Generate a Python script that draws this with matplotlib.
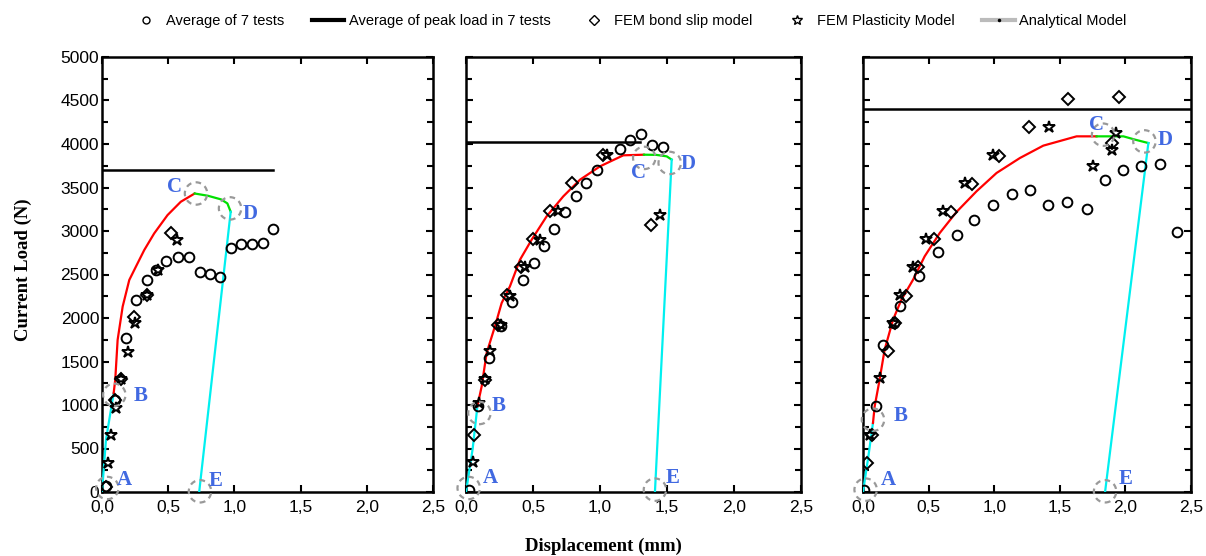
import matplotlib
matplotlib.use("Agg")
import matplotlib.pyplot as plt
from matplotlib.lines import Line2D
from matplotlib.ticker import MultipleLocator, FuncFormatter

plt.rcParams['font.family'] = ['Liberation Sans', 'DejaVu Sans']

# ---------------- data ----------------
# Panel 1
p1_test_x = [0.03, 0.10, 0.18, 0.256, 0.337, 0.41, 0.487, 0.575, 0.658, 0.739, 0.814, 0.889, 0.972, 1.053, 1.136, 1.216, 1.294]
p1_test_y = [65, 1052, 1767, 2207, 2437, 2552, 2659, 2697, 2697, 2525, 2502, 2475, 2800, 2846, 2846, 2865, 3022]
p1_bond_x = [0.03, 0.10, 0.143, 0.244, 0.337, 0.52]
p1_bond_y = [60, 1060, 1297, 2016, 2265, 2980]
p1_plast_x = [0.048, 0.068, 0.106, 0.143, 0.193, 0.249, 0.337, 0.42, 0.57]
p1_plast_y = [333, 658, 964, 1297, 1614, 1947, 2265, 2552, 2896]
p1_peak = 3700
p1_peak_end = 1.29
p1_ab_x = [0.0, 0.03, 0.088]
p1_ab_y = [0, 600, 1136]
p1_bc_x = [0.088, 0.10, 0.118, 0.156, 0.206, 0.256, 0.319, 0.394, 0.495, 0.595, 0.70]
p1_bc_y = [1136, 1289, 1748, 2131, 2437, 2590, 2781, 2972, 3183, 3336, 3431]
p1_cd_x = [0.70, 0.80, 0.90, 0.947, 0.972]
p1_cd_y = [3431, 3405, 3363, 3317, 3221]
p1_de_x = [0.972, 0.734]
p1_de_y = [3221, 0]
p1_pts_x = [0.04, 0.093, 0.71, 0.967, 0.74]
p1_pts_y = [46, 1117, 3431, 3260, 8]
p1_lab_x = [0.17, 0.29, 0.55, 1.12, 0.86]
p1_lab_y = [140, 1098, 3500, 3200, 122]

# Panel 2
p2_test_x = [0.02, 0.092, 0.174, 0.261, 0.341, 0.428, 0.507, 0.582, 0.657, 0.741, 0.821, 0.893, 0.975, 1.149, 1.224, 1.308, 1.388, 1.468]
p2_test_y = [20, 985, 1540, 1904, 2180, 2441, 2632, 2824, 3027, 3218, 3398, 3552, 3705, 3943, 4050, 4115, 3992, 3962]
p2_bond_x = [0.062, 0.142, 0.241, 0.303, 0.41, 0.502, 0.627, 0.789, 1.025, 1.38]
p2_bond_y = [659, 1291, 1923, 2268, 2582, 2908, 3226, 3552, 3877, 3073]
p2_plast_x = [0.05, 0.10, 0.142, 0.179, 0.261, 0.328, 0.44, 0.552, 0.69, 1.05, 1.448]
p2_plast_y = [341, 1023, 1299, 1617, 1923, 2249, 2582, 2900, 3226, 3877, 3188]
p2_peak = 4020
p2_peak_end = 1.30
p2_ab_x = [0.0, 0.05, 0.085]
p2_ab_y = [0, 500, 985]
p2_bc_x = [0.085, 0.117, 0.154, 0.216, 0.266, 0.328, 0.403, 0.49, 0.602, 0.726, 0.851, 1.0, 1.174, 1.328]
p2_bc_y = [985, 1215, 1598, 1904, 2172, 2364, 2670, 2900, 3169, 3398, 3590, 3743, 3870, 3877]
p2_cd_x = [1.328, 1.42, 1.498, 1.535]
p2_cd_y = [3877, 3875, 3858, 3820]
p2_de_x = [1.535, 1.41]
p2_de_y = [3820, 0]
p2_pts_x = [0.02, 0.10, 1.33, 1.52, 1.41]
p2_pts_y = [46, 908, 3840, 3782, 27]
p2_lab_x = [0.18, 0.24, 1.29, 1.66, 1.54]
p2_lab_y = [160, 985, 3667, 3774, 160]

# Panel 3
p3_test_x = [0.01, 0.097, 0.153, 0.234, 0.28, 0.427, 0.573, 0.718, 0.845, 0.992, 1.137, 1.272, 1.412, 1.557, 1.705, 1.845, 1.98, 2.12, 2.265, 2.397]
p3_test_y = [27, 985, 1693, 1942, 2142, 2479, 2755, 2958, 3130, 3299, 3429, 3467, 3299, 3329, 3253, 3590, 3705, 3751, 3774, 2985]
p3_bond_x = [0.03, 0.071, 0.19, 0.242, 0.33, 0.42, 0.54, 0.674, 0.832, 1.038, 1.267, 1.565, 1.954, 1.90]
p3_bond_y = [333, 659, 1617, 1942, 2249, 2582, 2908, 3218, 3544, 3866, 4192, 4517, 4540, 4011]
p3_plast_x = [0.05, 0.127, 0.229, 0.285, 0.38, 0.483, 0.61, 0.776, 0.992, 1.417, 1.756, 1.896, 1.93]
p3_plast_y = [659, 1310, 1942, 2260, 2582, 2912, 3230, 3552, 3877, 4195, 3743, 3935, 4126]
p3_peak = 4400
p3_peak_end = 2.5
p3_ab_x = [0.0, 0.04, 0.076]
p3_ab_y = [0, 400, 793]
p3_bc_x = [0.076, 0.089, 0.122, 0.165, 0.229, 0.293, 0.382, 0.47, 0.585, 0.712, 0.865, 1.018, 1.196, 1.374, 1.628, 1.78]
p3_bc_y = [793, 985, 1253, 1636, 1981, 2211, 2441, 2709, 2977, 3218, 3456, 3667, 3839, 3981, 4088, 4088]
p3_cd_x = [1.78, 1.985, 2.074, 2.175]
p3_cd_y = [4088, 4088, 4050, 4011]
p3_de_x = [2.175, 1.845]
p3_de_y = [4011, 0]
p3_pts_x = [0.02, 0.076, 1.83, 2.145, 1.845]
p3_pts_y = [27, 831, 4107, 4030, 8]
p3_lab_x = [0.19, 0.285, 1.78, 2.30, 2.0]
p3_lab_y = [140, 870, 4222, 4050, 150]

point_names = ['A', 'B', 'C', 'D', 'E']
x_ticks = [0.0, 0.5, 1.0, 1.5, 2.0, 2.5]
y_ticks = [0, 500, 1000, 1500, 2000, 2500, 3000, 3500, 4000, 4500, 5000]

panels = [
    dict(tx=p1_test_x, ty=p1_test_y, bx=p1_bond_x, by=p1_bond_y, sx=p1_plast_x, sy=p1_plast_y,
         peak=p1_peak, pend=p1_peak_end, ab=(p1_ab_x, p1_ab_y), bc=(p1_bc_x, p1_bc_y),
         cd=(p1_cd_x, p1_cd_y), de=(p1_de_x, p1_de_y), px=p1_pts_x, py=p1_pts_y, lx=p1_lab_x, ly=p1_lab_y),
    dict(tx=p2_test_x, ty=p2_test_y, bx=p2_bond_x, by=p2_bond_y, sx=p2_plast_x, sy=p2_plast_y,
         peak=p2_peak, pend=p2_peak_end, ab=(p2_ab_x, p2_ab_y), bc=(p2_bc_x, p2_bc_y),
         cd=(p2_cd_x, p2_cd_y), de=(p2_de_x, p2_de_y), px=p2_pts_x, py=p2_pts_y, lx=p2_lab_x, ly=p2_lab_y),
    dict(tx=p3_test_x, ty=p3_test_y, bx=p3_bond_x, by=p3_bond_y, sx=p3_plast_x, sy=p3_plast_y,
         peak=p3_peak, pend=p3_peak_end, ab=(p3_ab_x, p3_ab_y), bc=(p3_bc_x, p3_bc_y),
         cd=(p3_cd_x, p3_cd_y), de=(p3_de_x, p3_de_y), px=p3_pts_x, py=p3_pts_y, lx=p3_lab_x, ly=p3_lab_y),
]

# ---------------- figure ----------------
W, H = 1206, 556
fig = plt.figure(figsize=(W / 100, H / 100), dpi=100)
rects = [(102, 331), (466, 335), (863, 328)]
top_px, bot_px = 57, 492

label_color = '#4169E1'
cyan = '#00F0F0'
red = '#FF0000'
green = '#00E000'
mk = dict(markersize=7, markerfacecolor='none', markeredgecolor='black', markeredgewidth=1.4, linestyle='none')

for i, (p, (l, w)) in enumerate(zip(panels, rects)):
    ax = fig.add_axes([l / W, (H - bot_px) / H, w / W, (bot_px - top_px) / H])
    ax.set_xlim(0, 2.5)
    ax.set_ylim(0, 5000)

    ax.plot([0, p['pend']], [p['peak'], p['peak']], color='black', lw=1.8, zorder=2)

    ax.plot(*p['ab'], color=cyan, lw=1.6, zorder=3)
    ax.plot(*p['bc'], color=red, lw=1.6, zorder=3)
    ax.plot(*p['cd'], color=green, lw=1.6, zorder=3)
    ax.plot(*p['de'], color=cyan, lw=1.6, zorder=3)

    ax.plot(p['tx'], p['ty'], marker='o', **mk, zorder=4)
    ax.plot(p['bx'], p['by'], marker='D', **dict(mk, markersize=6.5), zorder=4)
    ax.plot(p['sx'], p['sy'], marker='*', **dict(mk, markersize=9), zorder=4)

    ax.scatter(p['px'], p['py'], s=260, facecolors='none', edgecolors='#999999',
               linewidths=1.6, linestyle=(0, (2.5, 2.0)), zorder=5, clip_on=False)
    for name, lx, ly in zip(point_names, p['lx'], p['ly']):
        ax.text(lx, ly, name, color=label_color, fontsize=15, fontweight='bold',
                family='Liberation Serif', ha='center', va='center', zorder=6)

    ax.yaxis.set_minor_locator(MultipleLocator(250))
    ax.set_xticks(x_ticks)
    ax.xaxis.set_major_formatter(FuncFormatter(lambda v, pos: f"{v:.1f}".replace('.', ',')))
    ax.tick_params(which='both', direction='in', top=True, right=True, width=1.5)
    ax.tick_params(which='major', length=5, labelsize=12.5)
    ax.tick_params(axis='x', which='major', pad=6)
    ax.tick_params(axis='y', which='major', pad=2)
    ax.tick_params(which='minor', length=4)
    for s in ax.spines.values():
        s.set_linewidth(1.8)
    ax.set_yticks(y_ticks)
    if i == 0:
        ax.set_ylabel('Current Load (N)', family='Liberation Serif', fontweight='bold', fontsize=13.5)
        ax.yaxis.set_label_coords((32 - l) / w, (bot_px - 270) / (bot_px - top_px))
    else:
        ax.tick_params(axis='y', which='both', labelleft=False)

fig.text(603 / W, 1 - 546 / H, 'Displacement (mm)', family='Liberation Serif', fontweight='bold',
         fontsize=13.5, ha='center', va='center')

handles = [
    Line2D([], [], marker='o', markersize=5, markerfacecolor='none', markeredgecolor='black', markeredgewidth=1, linestyle='none'),
    Line2D([], [], color='black', lw=3),
    Line2D([], [], marker='D', markersize=5, markerfacecolor='none', markeredgecolor='black', markeredgewidth=1, linestyle='none'),
    Line2D([], [], marker='*', markersize=7, markerfacecolor='none', markeredgecolor='black', markeredgewidth=1, linestyle='none'),
    Line2D([], [], color='#BBBBBB', lw=3, marker='.', markersize=3, markerfacecolor='black', markeredgecolor='black'),
]
labels = ['Average of 7 tests', 'Average of peak load in 7 tests', 'FEM bond slip model',
          'FEM Plasticity Model', 'Analytical Model']
fig.legend(handles, labels, loc='center', bbox_to_anchor=(628 / W, 1 - 21 / H), ncol=5, frameon=False,
           fontsize=10.5, handlelength=2.2, handletextpad=0.3, columnspacing=1.9)

fig.savefig('out.png', dpi=100)
